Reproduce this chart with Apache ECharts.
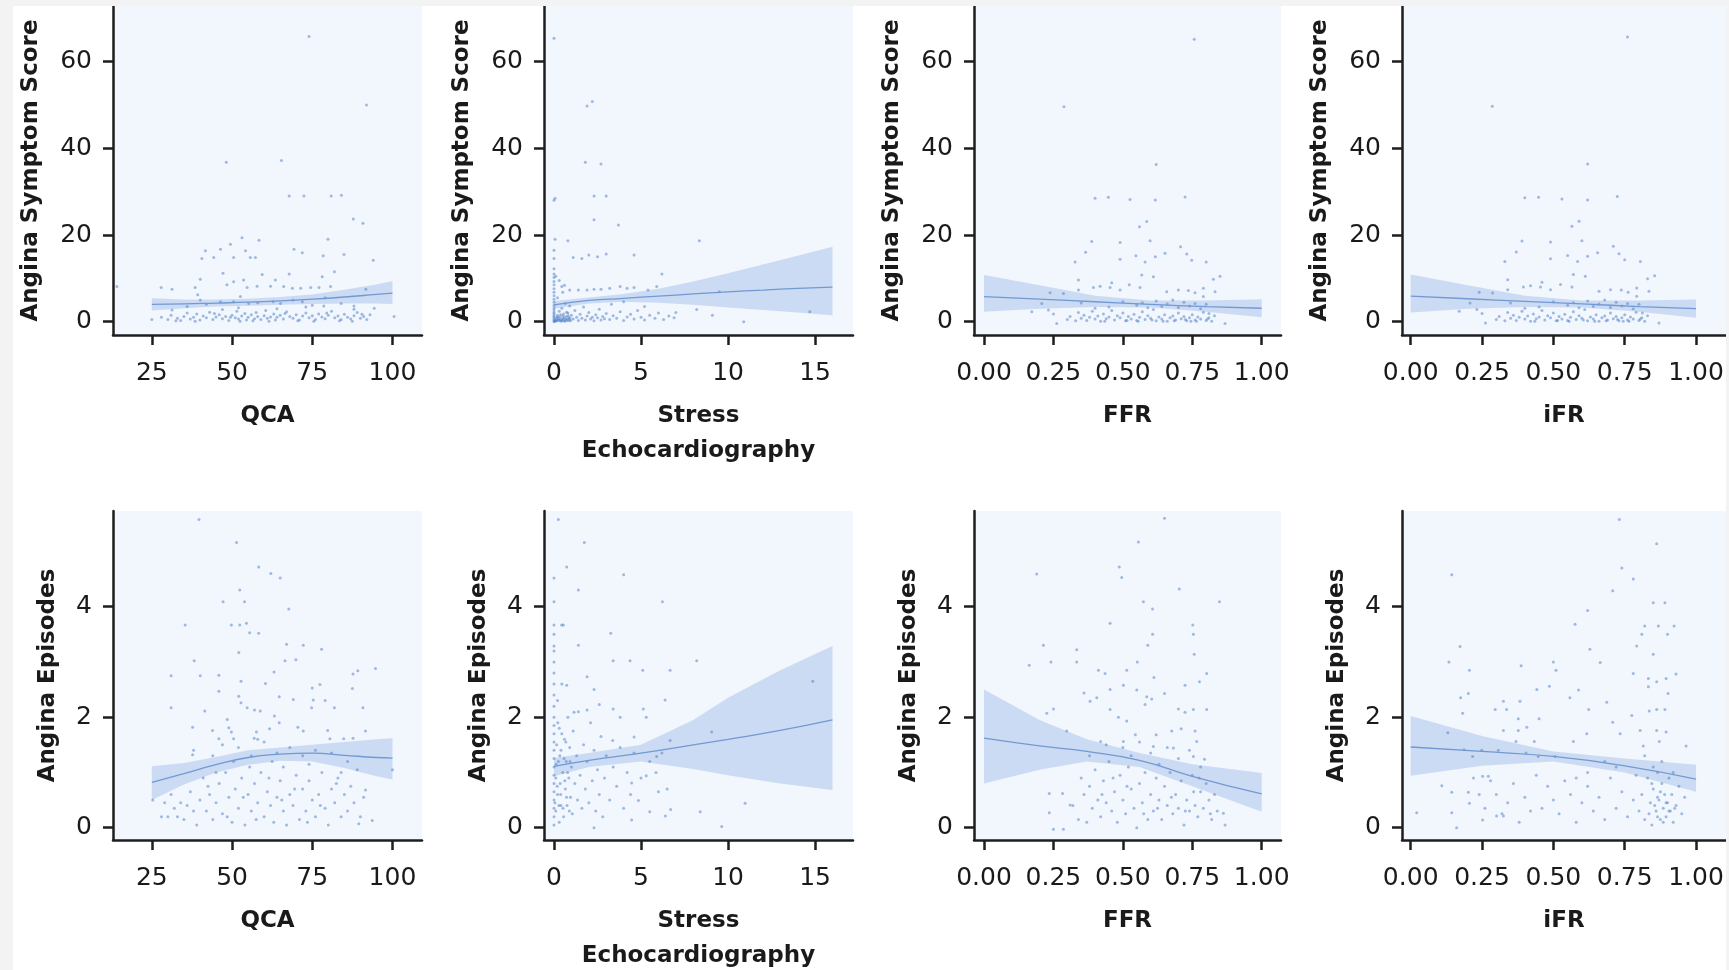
<!DOCTYPE html>
<html>
<head>
<meta charset="utf-8">
<script src="https://cdn.jsdelivr.net/npm/echarts@6/dist/echarts.min.js"></script>
<style>
html,body{margin:0;padding:0;background:#ffffff;}
#chart{width:1729px;height:970px;}
</style>
</head>
<body>
<div id="chart"></div>
<script>
// ---------- tick labels ----------
const qcaTicks = [25, 50, 75, 100];
const echoTicks = [0, 5, 10, 15];
const ffrTicks = [0, 0.25, 0.5, 0.75, 1];
const scoreTicks = [0, 20, 40, 60];
const episodeTicks = [0, 2, 4];

// ---------- axis titles ----------
const xNames = ['QCA', 'Stress\nEchocardiography', 'FFR', 'iFR'];
const yNames = ['Angina Symptom Score', 'Angina Episodes'];

// ---------- scatter data: [x, y] ----------
const qcaScore = [
[74,65.8],[91.9,50],[48.2,36.8],[65.4,37.2],[67.8,29],[72.4,29],[80.9,29],[84.1,29.2],[87.8,23.7],[90.8,22.7],
[53.1,19.4],[58.4,18.8],[49.5,17.9],[79.9,19],[41.7,16.4],[46.4,16.7],[54.2,16.4],[69.3,16.7],[71.9,15.9],[84.9,15.5],
[40.6,14.6],[44.3,14.8],[50.5,14.8],[55.7,14.8],[57.3,14.8],[78.4,15.2],[94,14.2],[47.2,11.2],[59.4,10.9],[67.8,11],
[81.9,11.5],[78.1,10.4],[14.1,8.1],[27.9,7.9],[31.3,7.5],[38.5,7.9],[40.1,9.8],[48.4,8.5],[50.5,9.2],[53.6,9.6],
[54.7,7.9],[57.8,8.2],[62,8.2],[63.5,9.6],[66.1,8.1],[68.8,7.7],[71.4,7.7],[74.5,7.9],[77.1,7.9],[80.7,8.1],
[91.7,7.5],[39.3,6.2],[40.1,5],[46.4,4.6],[50.5,4.6],[52.6,5.8],[55.2,4.2],[62.8,4.6],[65.1,4.2],[71.9,4.6],
[75,3.8],[78.6,3.6],[88,3.6],[94.3,3.1],[31.3,2.7],[100.5,1.2],[25,0.5],
[28,1],[30,0.5],[31,1.5],[33,0.8],[34,0.3],[35,1.2],[36,2.0],[37,0.6],[38,1.0],[39,1.8],[40,0.4],[41,1.3],[42,0.9],
[43,2.2],[44,0.5],[45,1.1],[46,1.6],[47,0.7],[48,1.2],[49,0.3],[50,1.5],[51,0.9],[51.5,2.4],[52,0.6],[53,1.3],[54,1.9],
[54.5,0.4],[55,1.0],[56,1.6],[57,0.7],[57.5,2.1],[58,1.2],[59,0.5],[60,1.4],[60.5,2.6],[61,0.8],[62,1.1],[63,1.8],
[63.5,0.4],[64,1.0],[65,1.5],[66,0.6],[67,2.3],[68,1.2],[69,0.8],[70,1.6],[71,0.4],[72,1.3],[73,2.0],[74,0.9],[75,1.4],
[76,0.5],[77,1.8],[78,1.1],[79,0.7],[80,1.5],[81,2.4],[82,0.9],[83,1.3],[84,0.5],[85,1.7],[86,1.0],[87,0.6],[88,1.4],
[89,2.1],[90,0.8],[91,1.2],[92,0.5],[93,1.6],
[36,3.5],[42,4.0],[47,2.8],[52,3.2],[58,4.4],[64,3.0],[69,5.0],[73,3.4],[79,5.5],[84,4.2],[88,2.9],
[32.5,0.2],[38.5,0.1],[44.5,1.9],[49.5,1.0],[52.5,0.1],[56.5,0.2],[61.5,0.1],[66.5,1.9],[70.5,0.2],[75.5,0.1],[79.5,2.0],
[83.5,0.2],[87.5,0.1],[90.5,1.7]
];

const echoScore = [
[0,65.4],[0.06,28.5],[0,28],[2.2,50.8],[1.9,49.8],[1.8,36.8],[2.7,36.4],[2.3,29],[3,29],[2.3,23.5],[3.7,22.3],
[0.06,19],[0.8,18.7],[8.35,18.7],[0,16.5],[0,14.6],[1.1,14.8],[1.6,14.6],[2.0,15.4],[2.5,15],[3.0,15.6],[4.6,15.4],
[6.2,11],[0.45,8.1],[0.9,7.3],[1.4,7.3],[1.9,7.3],[2.3,7.5],[2.7,7.5],[3.2,7.7],[3.8,8.1],[4.2,7.7],[4.6,7.9],[5.4,7.3],
[5.9,8.1],[9.5,6.9],[4,4.6],[8.2,2.8],[9.1,1.5],[10.9,0],[14.7,2.3],
[0,0],[0,0.3],[0,0.6],[0,1.0],[0,1.4],[0,1.8],[0,2.2],[0,2.7],[0,3.2],[0,3.8],[0,4.5],[0,5.2],[0,6.0],[0,6.8],[0,7.6],
[0,8.5],[0,9.3],[0,10.2],[0,11.0],[0,12.2],
[0.1,0.2],[0.15,0.9],[0.2,1.5],[0.25,0.4],[0.3,2.4],[0.35,1.1],[0.4,0.1],[0.45,3.1],[0.5,0.7],[0.55,1.8],[0.6,0.3],
[0.65,4.2],[0.7,1.2],[0.75,0.5],[0.8,2.0],[0.85,0.9],[0.9,3.6],[0.95,0.2],[1.0,1.5],[0.2,5.5],[0.3,9.5],[0.1,10.5],
[0.5,6.8],[0.6,8.4],
[1.1,0.6],[1.2,2.6],[1.3,1.0],[1.4,0.3],[1.5,1.7],[1.6,0.8],[1.7,3.4],[1.8,0.4],[1.9,1.3],[2.0,2.1],[2.1,0.6],[2.2,1.0],
[2.3,0.2],[2.4,1.6],[2.5,0.9],[2.6,2.9],[2.7,0.4],[2.8,1.2],[2.9,0.7],[3.0,1.9],
[3.2,0.5],[3.4,1.4],[3.6,0.8],[3.8,2.3],[4.0,0.3],[4.2,1.1],[4.4,1.7],[4.6,0.6],[4.8,2.6],[5.0,1.0],[5.2,0.4],[5.5,1.5],
[5.8,0.8],[6.0,2.0],[6.3,0.5],[6.6,1.3],[6.9,0.9],[7.0,2.1],[3.3,4.0],[5.2,3.5],
[0.05,0.1],[0.12,0.5],[0.18,0.2],[0.22,1.1],[0.28,0.7],[0.33,0.3],[0.38,1.6],[0.42,0.5],[0.48,0.2],[0.52,1.3],[0.58,0.9],
[0.62,0.1],[0.68,0.6],[0.72,2.2],[0.78,0.2],[0.82,1.4],[0.88,0.4],[0.92,0.8]
];

const ffrScore = [
[0.757,65.2],[0.288,49.6],[0.62,36.3],[0.40,28.5],[0.448,28.7],[0.526,28.2],[0.617,28.1],[0.724,28.8],[0.586,23.1],
[0.56,21.9],[0.388,18.5],[0.49,18.3],[0.598,18.7],[0.708,17.3],[0.366,16],[0.652,15.8],[0.547,15.2],[0.617,15],
[0.73,15.6],[0.328,13.8],[0.49,14.4],[0.58,13.8],[0.748,14.2],[0.80,13.8],[0.568,10.8],[0.61,10.4],[0.85,10.5],
[0.34,9.6],[0.826,9.8],[0.46,9],[0.394,7.9],[0.418,8.2],[0.454,7.9],[0.49,7.3],[0.523,8.5],[0.562,7.9],[0.34,7.3],
[0.238,6.7],[0.286,6.5],[0.658,6.9],[0.70,7.3],[0.736,7.2],[0.76,6.7],[0.79,7.7],[0.832,6.9],[0.79,5.8],[0.208,4.2],
[0.232,2.7],[0.172,2.3],[0.25,1.8],[0.262,-0.4],[0.868,-0.4],[0.81,1.9],
[0.30,0.5],[0.31,1.2],[0.33,0.2],[0.34,2.1],[0.35,0.8],[0.36,1.5],[0.37,0.3],[0.38,1.0],[0.39,2.4],[0.40,0.6],[0.41,1.3],
[0.42,0.1],[0.43,1.8],[0.44,0.7],[0.45,1.1],[0.46,2.6],[0.47,0.4],[0.48,1.4],[0.49,0.9],[0.50,2.0],[0.51,0.2],[0.52,1.2],
[0.53,0.6],[0.54,1.7],[0.55,0.3],[0.56,1.0],[0.57,2.3],[0.58,0.5],[0.59,1.4],[0.60,0.8],[0.61,2.8],[0.62,0.2],[0.63,1.1],
[0.64,0.6],[0.65,1.6],[0.66,0.1],[0.67,0.9],[0.68,1.3],[0.69,0.4],[0.70,2.0],[0.71,0.7],[0.72,1.2],[0.73,0.2],[0.74,0.9],
[0.75,1.6],[0.76,0.4],[0.77,1.1],[0.78,0.6],[0.79,2.2],[0.80,0.3],[0.81,0.9],[0.82,0.1],[0.83,1.4],
[0.55,3.8],[0.57,4.4],[0.59,3.2],[0.62,4.8],[0.64,3.5],[0.66,4.1],[0.68,5.0],[0.70,3.3],[0.72,4.5],[0.74,3.6],[0.76,4.2],
[0.78,3.0],[0.80,4.0],[0.45,3.4],[0.50,4.6],[0.40,3.1],[0.35,4.3],
[0.435,0.1],[0.515,0.3],[0.555,0.1],[0.605,0.4],[0.645,0.1],[0.685,0.2],[0.725,0.5],[0.765,0.1],[0.805,0.6],[0.745,0.1]
];

const ifrScore = [
[0.76,65.7],[0.286,49.7],[0.62,36.4],[0.40,28.6],[0.448,28.7],[0.53,28.3],[0.62,28.1],[0.724,28.9],[0.59,23.2],
[0.565,22],[0.39,18.6],[0.49,18.4],[0.60,18.7],[0.71,17.4],[0.37,16.1],[0.655,15.9],[0.55,15.3],[0.62,15.1],
[0.73,15.7],[0.33,13.9],[0.49,14.5],[0.585,13.9],[0.75,14.3],[0.805,13.9],[0.57,10.9],[0.612,10.5],[0.855,10.6],
[0.34,9.7],[0.83,9.9],[0.46,9.1],[0.395,8],[0.42,8.3],[0.455,8],[0.49,7.4],[0.525,8.6],[0.565,8],[0.34,7.4],
[0.24,6.8],[0.287,6.6],[0.66,7],[0.70,7.4],[0.738,7.3],[0.762,6.8],[0.792,7.8],[0.835,7],[0.792,5.9],[0.208,4.3],
[0.232,2.8],[0.17,2.4],[0.25,1.9],[0.262,-0.3],[0.87,-0.3],[0.812,2],
[0.30,0.5],[0.31,1.2],[0.33,0.2],[0.34,2.1],[0.35,0.8],[0.36,1.5],[0.37,0.3],[0.38,1.0],[0.39,2.4],[0.40,0.6],[0.41,1.3],
[0.42,0.1],[0.43,1.8],[0.44,0.7],[0.45,1.1],[0.46,2.6],[0.47,0.4],[0.48,1.4],[0.49,0.9],[0.50,2.0],[0.51,0.2],[0.52,1.2],
[0.53,0.6],[0.54,1.7],[0.55,0.3],[0.56,1.0],[0.57,2.3],[0.58,0.5],[0.59,1.4],[0.60,0.8],[0.61,2.8],[0.62,0.2],[0.63,1.1],
[0.64,0.6],[0.65,1.6],[0.66,0.1],[0.67,0.9],[0.68,1.3],[0.69,0.4],[0.70,2.0],[0.71,0.7],[0.72,1.2],[0.73,0.2],[0.74,0.9],
[0.75,1.6],[0.76,0.4],[0.77,1.1],[0.78,0.6],[0.79,2.2],[0.80,0.3],[0.81,0.9],[0.82,0.1],[0.83,1.4],
[0.55,3.8],[0.57,4.4],[0.59,3.2],[0.62,4.8],[0.64,3.5],[0.66,4.1],[0.68,5.0],[0.70,3.3],[0.72,4.5],[0.74,3.6],[0.76,4.2],
[0.78,3.0],[0.80,4.0],[0.45,3.4],[0.50,4.6],[0.40,3.1],[0.35,4.3],
[0.435,0.1],[0.515,0.3],[0.555,0.1],[0.605,0.4],[0.645,0.1],[0.685,0.2],[0.725,0.5],[0.765,0.1],[0.805,0.6],[0.745,0.1]
];

const qcaEpisodes = [
[39.7,5.58],[51.4,5.16],[58.3,4.72],[62.1,4.6],[65,4.52],[52.4,4.3],[47.2,4.09],[53.9,4.09],[67.7,3.96],[35.4,3.67],
[49.8,3.67],[52.4,3.67],[54.5,3.7],[55.5,3.53],[58.3,3.52],[67,3.32],[72.2,3.3],[77.9,3.23],[52.1,3.17],[38.2,3.02],
[69.9,3.04],[66.5,3.02],[31,2.75],[40.1,2.75],[45.9,2.76],[63.1,2.82],[94.7,2.88],[89.2,2.84],[87.7,2.78],[52.8,2.65],
[60.4,2.61],[77.4,2.59],[75,2.53],[87.5,2.52],[45.9,2.47],[64.7,2.37],[69.1,2.32],[52.1,2.38],[52.8,2.26],[75.3,2.31],
[79,2.3],[31,2.17],[54.7,2.17],[57,2.13],[41.5,2.11],[58.8,2.11],[74.8,2.17],[81.9,2.17],[90.8,2.17],[63.2,2.02],
[48.5,1.96],[37.7,1.82],[49,1.81],[64.7,1.9],[70.5,1.82],[72.2,1.75],[79.8,1.76],[91.6,1.75],[43.9,1.76],[49.8,1.73],
[57.6,1.73],[61.7,1.79],[45.9,1.61],[50.5,1.61],[56.9,1.62],[80.5,1.61],[84.8,1.61],[87.7,1.62],[37.7,1.32],[100,1.05],
[91.6,0.68],[93.7,0.13],[89.5,0.07],[25.3,0.5],
[28,0.2],[29,0.45],[30,0.2],[31,0.6],[32,0.35],[33,0.2],[34,0.45],[35,0.15],[36,0.4],[37,0.65],[38,0.3],[39,0.05],
[40,0.5],[41,0.9],[42,0.3],[43,0.6],[44,0.15],[45,0.45],[46,0.8],[47,0.25],[48,1.0],[49,0.55],[50,0.1],[50.5,1.2],
[51,0.7],[52,0.35],[53,0.9],[54,0.05],[55,0.6],[55.5,1.1],[56,0.3],[57,0.8],[58,0.45],[59,1.0],[60,0.2],[61,0.65],
[62,0.4],[62.5,1.2],[63,0.1],[64,0.55],[65,0.85],[66,0.3],[67,0.05],[68,0.6],[69,0.4],[70,0.95],[71,0.15],[72,0.7],
[73,0.3],[74,0.85],[75,0.5],[76,0.2],[77,0.6],[78,1.0],[79,0.35],[80,0.05],[81,0.7],[82,0.45],[83,0.9],[84,0.2],
[85,0.6],[86,0.3],[87,0.75],[88,0.45],[89,1.05],[90,0.2],[91,0.55],
[38,1.4],[44,1.3],[47,1.5],[52,1.45],[56,1.3],[60,1.55],[64,1.35],[68,1.45],[72,1.3],[76,1.4],[81,1.35],[86,1.2],
[45,1.0],[58,1.6],[66,1.1],[74,1.15],[84,1.0],
[42.5,0.75],[48.5,0.2],[53.5,0.55],[57.5,0.15],[61.5,0.9],[65.5,0.5],[69.5,0.7],[73.5,0.1],[77.5,0.4],[82.5,0.8]
];

const echoEpisodes = [
[0.25,5.58],[1.74,5.16],[0.73,4.72],[4.0,4.58],[0,4.52],[1.4,4.3],[0,4.09],[6.23,4.09],[0,3.67],[0.44,3.67],[0.54,3.67],
[0,3.5],[3.26,3.52],[1.4,3.3],[0,3.29],[0,3.2],[3.4,3.02],[4.37,3.02],[5.1,2.85],[6.67,2.85],[8.2,3.02],[14.87,2.65],
[0.73,2.58],[1.9,2.73],[2.3,2.5],[6.38,2.31],[2.6,2.23],[3.4,2.15],[5.13,2.15],[1.15,2.09],[1.9,2.13],[3.8,2.0],
[5.3,2.0],[9.06,1.73],[6.67,1.58],[4.6,1.64],[3.37,1.58],[5.9,1.29],[5.3,0.94],[5.86,1.0],[4.46,0.81],[6,0.65],
[4.85,0.49],[10.98,0.44],[5.5,0.29],[6.7,0.33],[8.4,0.29],[6.4,0.21],[9.64,0.02],[2.3,0.0],[4.46,0.14],
[0,0.05],[0,0.2],[0,0.35],[0,0.5],[0,0.65],[0,0.8],[0,0.95],[0,1.1],[0,1.25],[0,1.4],[0,1.55],[0,1.7],[0,1.85],[0,2.0],
[0,2.2],[0,2.4],[0,2.6],[0,2.8],[0,3.0],[0.1,0.3],[0.1,0.9],[0.15,1.5],[0.2,2.3],[0.2,0.6],[0.25,1.2],[0.3,0.1],[0.3,1.8],
[0.35,0.8],[0.4,0.4],[0.4,1.4],[0.45,2.6],[0.5,1.0],[0.55,0.2],[0.6,1.6],[0.65,0.7],[0.7,1.2],[0.75,0.4],[0.8,2.0],
[0.85,0.9],[0.9,1.45],[0.95,0.55],[1.0,1.1],[1.05,0.25],[1.1,1.75],[1.2,0.8],[1.3,1.3],[1.35,0.5],[1.4,2.1],[1.5,0.95],
[1.6,0.35],[1.7,1.5],[1.8,0.7],[1.9,1.2],[2.0,0.45],[2.1,1.9],[2.2,0.85],[2.3,1.4],[2.4,0.3],[2.5,1.05],[2.6,0.6],
[2.7,1.65],[2.8,0.2],[2.9,0.9],[3.0,1.3],[3.2,0.5],[3.4,1.1],[3.6,0.75],[3.8,1.45],[4.0,0.35],[4.2,1.0],[4.4,0.6],
[4.6,1.35],[5.0,0.9],[5.5,1.2],[6.2,1.35],[6.5,0.7],
[0.05,0.45],[0.12,1.15],[0.18,0.75],[0.22,1.9],[0.28,0.4],[0.33,1.3],[0.38,0.6],[0.45,1.7],[0.52,0.35],[0.58,1.25],
[0.62,0.85],[0.68,1.55],[0.72,0.55],[0.78,1.0],[0.88,0.3],[0.92,1.2]
];

const ffrEpisodes = [
[0.65,5.6],[0.556,5.17],[0.487,4.72],[0.19,4.59],[0.496,4.53],[0.703,4.32],[0.574,4.09],[0.607,3.96],[0.848,4.09],
[0.454,3.7],[0.752,3.67],[0.754,3.5],[0.607,3.5],[0.59,3.3],[0.214,3.3],[0.334,3.22],[0.334,3.0],[0.241,3.0],[0.163,2.94],
[0.552,3.0],[0.757,3.14],[0.412,2.85],[0.436,2.79],[0.514,2.85],[0.612,2.72],[0.802,2.79],[0.776,2.64],[0.724,2.58],
[0.502,2.58],[0.55,2.49],[0.454,2.5],[0.65,2.43],[0.36,2.44],[0.382,2.29],[0.406,2.35],[0.586,2.37],[0.604,2.33],
[0.58,2.23],[0.25,2.15],[0.226,2.07],[0.454,2.14],[0.7,2.15],[0.724,2.09],[0.754,2.14],[0.802,2.14],[0.484,2.0],
[0.514,1.93],[0.298,1.75],[0.71,1.79],[0.676,1.75],[0.76,1.75],[0.62,1.68],[0.545,1.68],[0.42,1.56],[0.502,1.56],
[0.766,1.56],[0.61,1.47],[0.682,1.44],[0.754,1.29],[0.794,1.24],[0.862,0.26],[0.868,0.05],[0.25,-0.03],[0.286,-0.03],
[0.235,0.62],[0.235,0.27],[0.283,0.62],[0.31,0.41],
[0.32,0.4],[0.34,0.15],[0.35,0.9],[0.36,0.6],[0.37,0.1],[0.38,0.75],[0.39,0.35],[0.40,1.05],[0.41,0.5],[0.42,0.2],
[0.43,0.85],[0.44,0.45],[0.45,1.2],[0.46,0.3],[0.47,0.65],[0.48,0.1],[0.49,0.95],[0.50,0.5],[0.51,0.25],[0.52,1.1],
[0.53,0.7],[0.54,0.35],[0.55,0.0],[0.56,0.8],[0.57,0.45],[0.58,1.0],[0.59,0.15],[0.60,0.6],[0.61,0.3],[0.62,0.9],
[0.63,0.5],[0.64,0.15],[0.65,0.75],[0.66,0.4],[0.67,1.0],[0.68,0.25],[0.69,0.6],[0.70,0.35],[0.71,0.85],[0.72,0.05],
[0.73,0.5],[0.74,0.3],[0.75,0.95],[0.76,0.4],[0.77,0.2],[0.78,0.65],[0.79,0.35],[0.80,0.8],[0.81,0.5],[0.82,0.15],
[0.83,0.6],[0.84,0.3],[0.44,1.5],[0.50,1.45],[0.56,1.55],[0.60,1.35],[0.66,1.45],[0.70,1.25],[0.74,1.4],[0.78,1.1],
[0.38,1.3],[0.63,1.15],[0.53,1.3],
[0.425,0.6],[0.465,0.9],[0.515,0.75],[0.575,0.25],[0.625,0.35],[0.675,0.55],[0.725,0.3],[0.755,0.65],[0.775,0.9],[0.815,0.25]
];

const ifrEpisodes = [
[0.731,5.58],[0.862,5.14],[0.144,4.58],[0.74,4.7],[0.78,4.5],[0.708,4.29],[0.62,3.93],[0.85,4.07],[0.891,4.07],
[0.576,3.68],[0.82,3.65],[0.868,3.65],[0.923,3.65],[0.81,3.5],[0.9,3.5],[0.792,3.29],[0.173,3.28],[0.628,3.23],
[0.85,3.14],[0.134,3.0],[0.5,3.0],[0.664,2.99],[0.387,2.93],[0.509,2.85],[0.206,2.85],[0.78,2.79],[0.93,2.78],
[0.833,2.7],[0.862,2.64],[0.895,2.7],[0.486,2.56],[0.833,2.55],[0.442,2.5],[0.588,2.49],[0.902,2.43],[0.202,2.43],
[0.175,2.35],[0.558,2.35],[0.325,2.29],[0.383,2.29],[0.687,2.27],[0.296,2.14],[0.336,2.14],[0.624,2.14],[0.862,2.14],
[0.891,2.14],[0.836,2.11],[0.775,2.03],[0.182,2.07],[0.377,1.97],[0.45,1.97],[0.708,1.91],[0.325,1.76],[0.407,1.82],
[0.377,1.76],[0.804,1.76],[0.862,1.76],[0.895,1.73],[0.617,1.7],[0.734,1.7],[0.369,1.56],[0.433,1.56],[0.57,1.56],
[0.871,1.56],[0.815,1.48],[0.965,1.48],[0.13,1.72],[0.187,1.41],[0.249,1.4],[0.307,1.4],[0.217,1.29],[0.404,1.35],
[0.447,1.29],[0.506,1.29],[0.109,0.76],[0.144,0.64],[0.202,0.64],[0.206,0.44],[0.021,0.27],[0.144,0.27],[0.161,0],
[0.252,0.93],[0.272,0.93],[0.252,0.14],[0.301,0.21],[0.325,0.21],
[0.80,0.3],[0.81,0.6],[0.82,0.15],[0.83,0.9],[0.84,0.45],[0.845,0.05],[0.85,0.7],[0.86,0.3],[0.865,1.0],[0.87,0.5],
[0.875,0.15],[0.88,0.8],[0.885,0.35],[0.89,0.6],[0.895,0.2],[0.90,0.45],[0.905,0.9],[0.91,0.3],[0.915,0.6],[0.92,0.1],
[0.93,0.4],[0.94,0.75],[0.95,0.25],[0.96,0.55],[0.78,0.5],[0.76,0.2],[0.74,0.65],[0.72,0.35],[0.70,0.9],[0.68,0.15],
[0.66,0.55],[0.64,0.3],[0.62,0.75],[0.60,0.45],[0.58,0.1],[0.56,0.6],[0.54,0.85],[0.52,0.25],[0.50,0.5],[0.48,0.75],
[0.46,0.35],[0.44,0.95],[0.42,0.3],[0.40,0.55],[0.38,0.1],[0.36,0.8],[0.34,0.45],[0.32,0.25],[0.30,0.6],[0.28,0.85],
[0.26,0.35],[0.24,0.6],[0.22,0.9],[0.85,1.1],[0.88,1.2],[0.82,1.3],[0.92,1.0],[0.79,0.95],[0.62,1.0],[0.68,1.2],
[0.72,1.1],[0.58,0.9],
[0.835,0.25],[0.855,0.4],[0.865,0.2],[0.875,0.65],[0.885,0.1],[0.895,0.45],[0.905,0.3],[0.865,0.55],[0.845,0.8],[0.925,0.35]
];

// ---------- fitted line with confidence band: [x, fit, lower, upper] ----------
const qcaScoreFit = [[25,4.0,2.6,5.4],[35,4.1,3.1,5.1],[45,4.3,3.5,5.1],[55,4.5,3.7,5.3],[65,4.8,3.9,5.7],[75,5.2,4.1,6.3],[85,5.7,4.2,7.4],[95,6.3,4.2,8.6],[100,6.6,4.1,9.4]];
const echoScoreFit = [[0,3.9,3.0,4.8],[2,4.9,4.2,5.6],[4,5.4,4.6,6.4],[6,5.9,4.4,7.6],[8,6.4,3.9,9.3],[10,6.9,3.3,11.2],[12,7.3,2.7,13.2],[14,7.7,2.1,15.2],[16,8.0,1.5,17.3]];
const ffrScoreFit = [[0,5.8,2.3,10.8],[0.2,5.2,3.0,8.4],[0.4,4.6,3.4,6.0],[0.6,4.0,3.3,4.9],[0.8,3.5,2.3,4.9],[1,3.1,1.0,5.2]];
const ifrScoreFit = [[0,5.9,2.1,10.9],[0.2,5.3,3.0,8.4],[0.4,4.7,3.4,6.0],[0.6,4.1,3.3,4.9],[0.8,3.5,2.3,4.9],[1,3.0,0.9,5.1]];
const qcaEpisodesFit = [[25,0.82,0.5,1.11],[35,0.98,0.78,1.17],[45,1.14,1.0,1.28],[55,1.27,1.14,1.4],[65,1.33,1.21,1.45],[75,1.35,1.2,1.5],[85,1.31,1.08,1.55],[95,1.27,0.93,1.6],[100,1.26,0.87,1.62]];
const echoEpisodesFit = [[0,1.11,0.93,1.26],[2,1.22,1.1,1.35],[5,1.35,1.2,1.5],[8,1.5,1.06,1.95],[10,1.6,0.95,2.35],[13,1.76,0.8,2.85],[16,1.95,0.68,3.29]];
const ffrEpisodesFit = [[0,1.62,0.8,2.5],[0.2,1.48,1.05,1.95],[0.37,1.38,1.2,1.6],[0.56,1.22,1.1,1.35],[0.75,0.93,0.75,1.15],[1,0.61,0.29,0.99]];
const ifrEpisodesFit = [[0,1.46,0.94,2.02],[0.25,1.38,1.12,1.66],[0.5,1.29,1.2,1.38],[0.75,1.12,1.0,1.25],[1,0.88,0.65,1.14]];

// ---------- layout ----------
const colLeft = [113, 544, 974, 1402];
const colWidth = [309, 309, 307, 324];
const colMin = [12.9, -0.575, -0.036, -0.0305];
const colMax = [109.2, 17.18, 1.0695, 1.105];
const rowTop = [6, 511];
const rowHeight = 329;
const rowMin = [-3.07, -0.223];
const rowMax = [72.85, 5.732];
const yNameGap = [69, 52];
const xNameGap = [64, 64];

const colTicks = [qcaTicks, echoTicks, ffrTicks, ffrTicks];
const rowTicks = [scoreTicks, episodeTicks];
const panelData = [
  [qcaScore, echoScore, ffrScore, ifrScore],
  [qcaEpisodes, echoEpisodes, ffrEpisodes, ifrEpisodes]
];
const panelFit = [
  [qcaScoreFit, echoScoreFit, ffrScoreFit, ifrScoreFit],
  [qcaEpisodesFit, echoEpisodesFit, ffrEpisodesFit, ifrEpisodesFit]
];

const FONT = 'DejaVu Sans';
const INK = '#1a1a1a';
const AXIS = '#1e1e1e';

const grid = [], xAxis = [], yAxis = [], series = [];
let idx = 0;
for (let r = 0; r < 2; r++) {
  for (let c = 0; c < 4; c++) {
    grid.push({
      left: colLeft[c], top: rowTop[r], width: colWidth[c], height: rowHeight,
      show: true, backgroundColor: '#f2f6fd', borderWidth: 0, containLabel: false,
      outerBoundsMode: 'none'
    });
    const xt = colTicks[c];
    const yt = rowTicks[r];
    xAxis.push({
      gridIndex: idx, type: 'value', min: colMin[c], max: colMax[c],
      axisLine: { show: true, onZero: false, lineStyle: { color: AXIS, width: 2.5 } },
      axisTick: { show: true, length: 10, lineStyle: { color: AXIS, width: 2.5 }, customValues: xt },
      axisLabel: {
        customValues: xt, margin: 26, fontSize: 25, color: INK, fontFamily: FONT,
        formatter: c >= 2 ? (v => Number(v).toFixed(2)) : (v => String(v))
      },
      splitLine: { show: false },
      name: xNames[c], nameLocation: 'middle', nameGap: xNameGap[r],
      nameTextStyle: { fontSize: 23, fontWeight: 'bold', color: INK, fontFamily: FONT, lineHeight: 35 }
    });
    yAxis.push({
      gridIndex: idx, type: 'value', min: rowMin[r], max: rowMax[r],
      axisLine: { show: true, onZero: false, lineStyle: { color: AXIS, width: 2.5 } },
      axisTick: { show: true, length: 10, lineStyle: { color: AXIS, width: 2.5 }, customValues: yt },
      axisLabel: { customValues: yt, margin: 21, fontSize: 25, color: INK, fontFamily: FONT },
      splitLine: { show: false },
      name: yNames[r], nameLocation: 'middle', nameGap: yNameGap[r],
      nameTextStyle: { fontSize: 23, fontWeight: 'bold', color: INK, fontFamily: FONT, lineHeight: 26 }
    });
    const fit = panelFit[r][c];
    series.push({
      type: 'custom', xAxisIndex: idx, yAxisIndex: idx, silent: true, clip: true, z: 1,
      data: [[fit[0][0], fit[0][1]]],
      renderItem: function (params, api) {
        const upper = fit.map(p => api.coord([p[0], p[3]]));
        const lower = fit.map(p => api.coord([p[0], p[2]])).reverse();
        return { type: 'polygon', shape: { points: upper.concat(lower) }, style: { fill: 'rgba(155,186,232,0.45)' } };
      }
    });
    series.push({
      type: 'scatter', xAxisIndex: idx, yAxisIndex: idx, silent: true, z: 3,
      symbolSize: 3,
      itemStyle: { color: 'rgba(70,124,196,0.62)' },
      data: panelData[r][c]
    });
    series.push({
      type: 'line', xAxisIndex: idx, yAxisIndex: idx, silent: true, z: 4,
      symbol: 'none', smooth: true,
      lineStyle: { color: '#7299d2', width: 1.3 },
      data: fit.map(p => [p[0], p[1]])
    });
    idx++;
  }
}

const chart = echarts.init(document.getElementById('chart'), null, { renderer: 'canvas' });
chart.setOption({
  backgroundColor: '#ffffff',
  animation: false,
  grid, xAxis, yAxis, series,
  graphic: [
    { type: 'rect', left: 0, top: 0, shape: { width: 1729, height: 6 }, style: { fill: '#f3f3f3' }, z: 100, silent: true },
    { type: 'rect', left: 0, top: 0, shape: { width: 13, height: 970 }, style: { fill: '#f3f3f3' }, z: 100, silent: true },
    { type: 'rect', right: 0, top: 0, shape: { width: 3, height: 970 }, style: { fill: '#f3f3f3' }, z: 100, silent: true }
  ]
});
</script>
</body>
</html>
